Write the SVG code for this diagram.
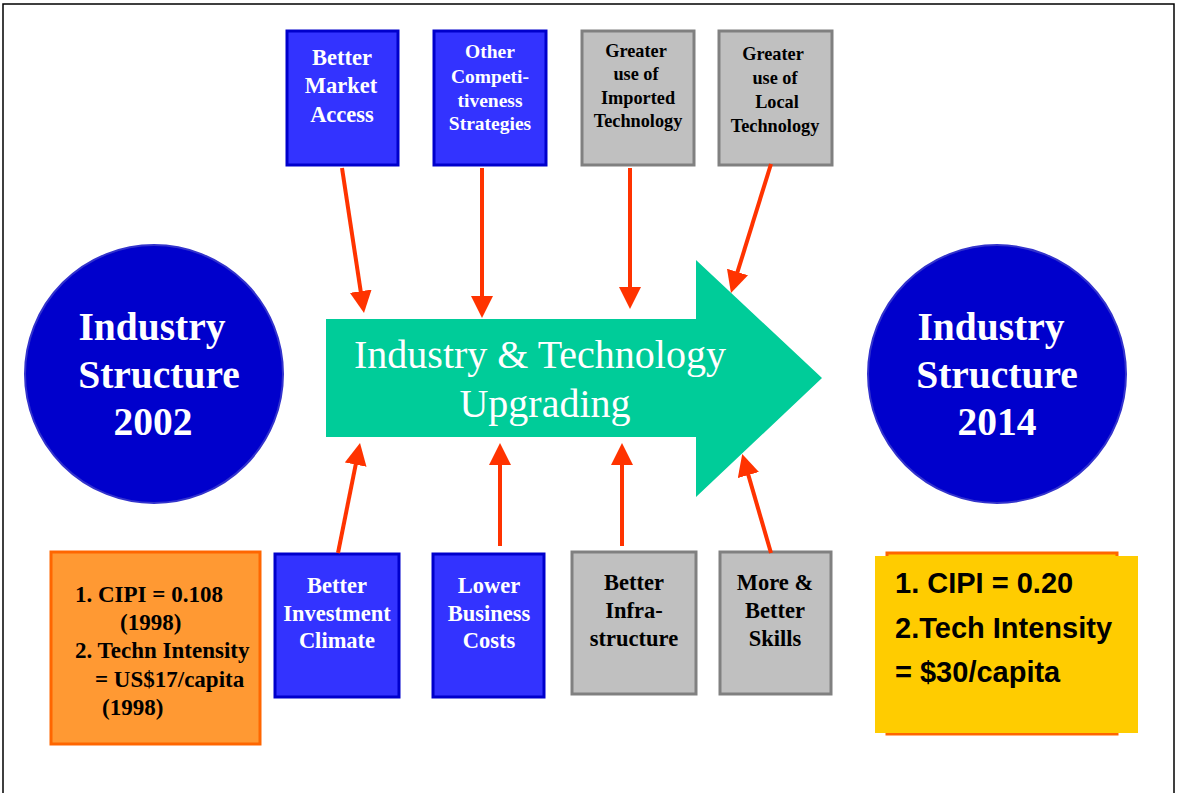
<svg xmlns="http://www.w3.org/2000/svg" width="1177" height="793" viewBox="0 0 1177 793">
<style>
.serif{font-family:"Liberation Serif","Times New Roman",serif;font-weight:bold}
.blue{fill:#3333ff;stroke:#0000cc;stroke-width:3}
.gray{fill:#c0c0c0;stroke:#808080;stroke-width:3}
.circ{fill:#0000cc;stroke:#3333cc;stroke-width:2}
.wt{fill:#ffffff;text-anchor:middle}
.bt{fill:#000000;text-anchor:middle}
.conn{stroke:#ff3300;stroke-width:4;fill:none;marker-end:url(#ah)}
</style>
<defs>
<marker id="ah" viewBox="0 0 22 22" refX="2" refY="11" markerWidth="22" markerHeight="22" markerUnits="userSpaceOnUse" orient="auto">
<path d="M0,0 L22,11 L0,22 z" fill="#ff3300"/>
</marker>
</defs>
<rect x="0" y="0" width="1177" height="793" fill="#ffffff"/>
<rect x="3" y="4" width="1171" height="820" fill="none" stroke="#000000" stroke-width="1.5"/>

<g id="main-arrow">
<path d="M326,319 L696,319 L696,260 L822,378 L696,497 L696,437 L326,437 z" fill="#00cc99"/>
<text x="540" y="368" font-family="Liberation Serif, Times New Roman, serif" font-size="40" fill="#ffffff" text-anchor="middle">Industry &amp; Technology</text>
<text x="545" y="417" font-family="Liberation Serif, Times New Roman, serif" font-size="40" fill="#ffffff" text-anchor="middle">Upgrading</text>
</g>

<g id="circle-2002">
<circle class="circ" cx="154" cy="374" r="129"/>
<text class="serif wt" font-size="39.5"><tspan x="152" y="340">Industry</tspan><tspan x="159" y="388">Structure</tspan><tspan x="153" y="435">2002</tspan></text>
</g>

<g id="circle-2014">
<circle class="circ" cx="997" cy="374" r="129"/>
<text class="serif wt" font-size="39.5"><tspan x="991" y="340">Industry</tspan><tspan x="997" y="388">Structure</tspan><tspan x="997" y="435">2014</tspan></text>
</g>

<g id="market-access">
<rect class="blue" x="287" y="31" width="111" height="134"/>
<text class="serif wt" font-size="22.5"><tspan x="342" y="65">Better</tspan><tspan x="341" y="93">Market</tspan><tspan x="342" y="122">Access</tspan></text>
</g>

<g id="competitiveness">
<rect class="blue" x="434" y="31" width="112" height="134"/>
<text class="serif wt" font-size="19.5"><tspan x="490" y="58">Other</tspan><tspan x="490" y="83">Competi-</tspan><tspan x="490" y="107">tiveness</tspan><tspan x="490" y="130">Strategies</tspan></text>
</g>

<g id="imported-tech">
<rect class="gray" x="582" y="31" width="112" height="134"/>
<text class="serif bt" font-size="18.3"><tspan x="636" y="57">Greater</tspan><tspan x="636" y="80">use of</tspan><tspan x="638" y="104">Imported</tspan><tspan x="638" y="127">Technology</tspan></text>
</g>

<g id="local-tech">
<rect class="gray" x="719" y="31" width="113" height="134"/>
<text class="serif bt" font-size="18.3"><tspan x="773" y="60">Greater</tspan><tspan x="775" y="84">use of</tspan><tspan x="777" y="108">Local</tspan><tspan x="775" y="132">Technology</tspan></text>
</g>

<g id="investment-climate">
<rect class="blue" x="275" y="554" width="124" height="143"/>
<text class="serif wt" font-size="22.5"><tspan x="337" y="593">Better</tspan><tspan x="337" y="621">Investment</tspan><tspan x="337" y="648">Climate</tspan></text>
</g>

<g id="business-costs">
<rect class="blue" x="433" y="554" width="111" height="143"/>
<text class="serif wt" font-size="22.5"><tspan x="489" y="593">Lower</tspan><tspan x="489" y="621">Business</tspan><tspan x="489" y="648">Costs</tspan></text>
</g>

<g id="infrastructure">
<rect class="gray" x="572" y="552" width="124" height="142"/>
<text class="serif bt" font-size="22.5"><tspan x="634" y="590">Better</tspan><tspan x="634" y="618">Infra-</tspan><tspan x="634" y="646">structure</tspan></text>
</g>

<g id="skills">
<rect class="gray" x="720" y="552" width="111" height="142"/>
<text class="serif bt" font-size="22.5"><tspan x="775" y="590">More &amp;</tspan><tspan x="775" y="618">Better</tspan><tspan x="775" y="646">Skills</tspan></text>
</g>

<g id="stats-1998">
<rect x="51" y="552" width="209" height="192" fill="#ff9933" stroke="#ff6600" stroke-width="3"/>
<text class="serif" font-size="23" fill="#000000"><tspan x="75" y="602">1. CIPI = 0.108</tspan><tspan x="120" y="630">(1998)</tspan><tspan x="75" y="658">2. Techn Intensity</tspan><tspan x="95" y="687">= US$17/capita</tspan><tspan x="102" y="715">(1998)</tspan></text>
</g>

<g id="stats-2014">
<rect x="887" y="553" width="230" height="181" fill="#ffcc00" stroke="#ff6600" stroke-width="3"/>
<rect x="875" y="556" width="263" height="177" fill="#ffcc00"/>
<text font-family="Liberation Sans, Arial, sans-serif" font-weight="bold" font-size="29" fill="#000000"><tspan x="895" y="593">1. CIPI = 0.20</tspan><tspan x="895" y="638">2.Tech Intensity</tspan><tspan x="895" y="682">= $30/capita</tspan></text>
</g>

<g id="connectors">
<line class="conn" x1="342" y1="168" x2="361" y2="293.2"/>
<line class="conn" x1="482" y1="168" x2="482" y2="298"/>
<line class="conn" x1="630" y1="168" x2="630" y2="289"/>
<line class="conn" x1="771" y1="164" x2="736.9" y2="273.9"/>
<line class="conn" x1="338" y1="553" x2="356.1" y2="462.6"/>
<line class="conn" x1="500" y1="546" x2="500" y2="463"/>
<line class="conn" x1="622" y1="546" x2="622" y2="463"/>
<line class="conn" x1="771" y1="553" x2="747.8" y2="473.1"/>
</g>
</svg>
